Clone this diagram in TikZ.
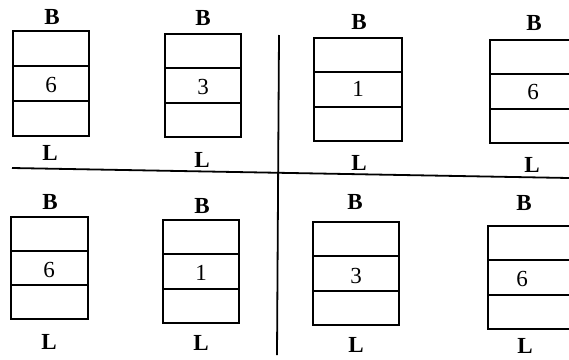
\documentclass[tikz,border=0pt]{standalone}
\usepackage{fontspec}
\setmainfont{Liberation Serif}
\usetikzlibrary{calc}
\begin{document}
\begin{tikzpicture}[x=1pt,y=-1pt,
  stackbox/.style={draw, line width=2pt, inner sep=0pt, outer sep=0pt,
                   minimum width=#1, minimum height=103pt},
  divline/.style={line width=1.7pt},
  rule/.style={line width=1.8pt},
  lbl/.style={inner sep=0pt, font=\fontsize{23}{26}\selectfont\bfseries},
  digit/.style={inner sep=0pt, font=\fontsize{23}{26}\selectfont}]
\useasboundingbox (0,0) rectangle (569,359);
\clip (0,0) rectangle (569,359);

% three-cell stack: the two inner dividers at thirds of the height
\newcommand\thirds[1]{%
  \draw[divline] ($(#1.north west)!1/3!(#1.south west)$) -- ($(#1.north east)!1/3!(#1.south east)$);
  \draw[divline] ($(#1.north west)!2/3!(#1.south west)$) -- ($(#1.north east)!2/3!(#1.south east)$);}

% separating cross
\coordinate (vtop) at (279,35);
\coordinate (vbot) at (277,355);
\coordinate (hleft) at (12,168);
\coordinate (hright) at (569,178);
\draw[rule] (vtop) -- (vbot);
\draw[rule] (hleft) -- (hright);

% upper row
\node[stackbox=76pt, minimum height=105pt] (s1) at (51,83.5) {};
\thirds{s1}
\node[digit] (d1) at (51,85) {6};
\node[lbl] (b1) at (52,17) {B};
\node[lbl] (l1) at (50,153) {L};

\node[stackbox=76pt] (s2) at (203,85.5) {};
\thirds{s2}
\node[digit] (d2) at (203,87) {3};
\node[lbl] (b2) at (203,18) {B};
\node[lbl] (l2) at (202,160) {L};

\node[stackbox=88pt] (s3) at (358,89.5) {};
\thirds{s3}
\node[digit] (d3) at (358,89) {1};
\node[lbl] (b3) at (359,22) {B};
\node[lbl] (l3) at (359,163) {L};

\node[stackbox=88pt] (s4) at (534,91.5) {};
\thirds{s4}
\node[digit] (d4) at (533,92) {6};
\node[lbl] (b4) at (534,23) {B};
\node[lbl] (l4) at (532,165) {L};

% lower row
\node[stackbox=77pt, minimum height=102pt] (s5) at (49.5,268) {};
\thirds{s5}
\node[digit] (d5) at (49,270) {6};
\node[lbl] (b5) at (50,202) {B};
\node[lbl] (l5) at (49,342) {L};

\node[stackbox=76pt] (s6) at (201,271.5) {};
\thirds{s6}
\node[digit] (d6) at (201,273) {1};
\node[lbl] (b6) at (202,206) {B};
\node[lbl] (l6) at (201,343) {L};

\node[stackbox=86pt] (s7) at (356,273.5) {};
\thirds{s7}
\node[digit] (d7) at (356,276) {3};
\node[lbl] (b7) at (355,202) {B};
\node[lbl] (l7) at (356,345) {L};

\node[stackbox=88pt] (s8) at (532,277.5) {};
\thirds{s8}
\node[digit] (d8) at (522,279) {6};
\node[lbl] (b8) at (524,203) {B};
\node[lbl] (l8) at (525,346) {L};
\end{tikzpicture}
\end{document}
